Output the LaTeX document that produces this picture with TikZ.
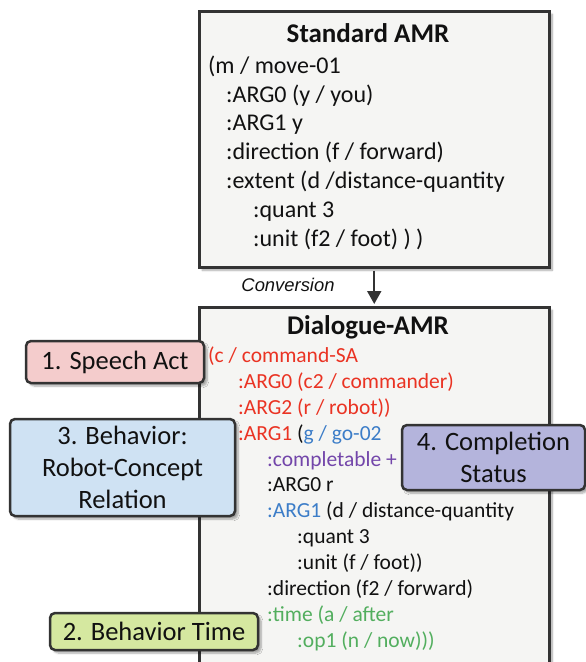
\documentclass[tikz,border=0pt]{standalone}
\usepackage{fontspec}
\setmainfont{Carlito}
\newfontfamily\convfont{Liberation Sans}
\usetikzlibrary{arrows.meta,shadows.blur}
\definecolor{edge}{HTML}{333333}
\definecolor{boxfill}{HTML}{F5F5F3}
\definecolor{cred}{HTML}{EA3323}
\definecolor{cblue}{HTML}{3C7DC8}
\definecolor{cpurple}{HTML}{7346AA}
\definecolor{cgreen}{HTML}{52AE5E}
\definecolor{fpink}{HTML}{F4CCCC}
\definecolor{fblue}{HTML}{CFE2F3}
\definecolor{fpurple}{HTML}{B4B4DC}
\definecolor{fgreen}{HTML}{D5E8A0}
\definecolor{txt}{HTML}{111111}
\begin{document}
\begin{tikzpicture}[x=1pt,y=-1pt,
  shade/.style={blur shadow={shadow xshift=3pt,shadow yshift=-3pt,shadow blur steps=6,shadow opacity=35}},
  box/.style={draw=edge,line width=2.5pt,fill=boxfill,shade,inner sep=0pt,anchor=north west},
  lab/.style={draw=edge,line width=2.5pt,rounded corners=5pt,shade,inner sep=0pt,align=center,
    text=txt,font=\fontsize{26.5}{32}\selectfont},
  title/.style={anchor=base,inner sep=0pt,text=txt,font=\fontsize{27}{32}\selectfont\bfseries},
  codeA/.style={anchor=base west,inner sep=0pt,text=txt,font=\fontsize{24}{29}\selectfont},
  codeB/.style={anchor=base west,inner sep=0pt,text=txt,font=\fontsize{21.5}{26}\selectfont},
]
\useasboundingbox (0,0) rectangle (586,662);
\clip (0,0) rectangle (586,662);
% boxes
\node[box,minimum width=350pt,minimum height=256pt] (std) at (198,10) {};
\node[box,minimum width=350pt,minimum height=420pt] (dlg) at (198,306) {};
% arrow
\draw[edge,line width=2pt,-{Triangle[length=13pt,width=14pt]},shorten <=2pt,shorten >=2pt] (std.south) -- (dlg.north);
\node[anchor=base,inner sep=0pt,text=txt,font=\convfont\itshape\fontsize{18.4}{22}\selectfont] (conv) at (288,291) {Conversion};
% standard AMR
\node[title] (t1) at (368,42) {Standard AMR};
\node[codeA] (a1) at (208,73) {(m / move-01};
\node[codeA] (a2) at (226,102) {:ARG0 (y / you)};
\node[codeA] (a3) at (226,130) {:ARG1 y};
\node[codeA] (a4) at (226,159) {:direction (f / forward)};
\node[codeA] (a5) at (226,188) {:extent (d /distance-quantity};
\node[codeA] (a6) at (253,217) {:quant 3};
\node[codeA] (a7) at (253,246) {:unit (f2 / foot) ) )};
% dialogue AMR
\node[title] (t2) at (368,334) {Dialogue-AMR};
\node[codeB,text=cred] (b1) at (208,362) {(c / command-SA};
\node[codeB,text=cred] (b2) at (238,388) {:ARG0 (c2 / commander)};
\node[codeB,text=cred] (b3) at (238,414) {:ARG2 (r / robot))};
\node[codeB] (b4) at (238,440) {\textcolor{cred}{:ARG1} (\textcolor{cblue}{g / go-02}};
\node[codeB,text=cpurple] (b5) at (267,466) {:completable +};
\node[codeB] (b6) at (267,491) {:ARG0 r};
\node[codeB] (b7) at (267,517) {\textcolor{cblue}{:ARG1} (d / distance-quantity};
\node[codeB] (b8) at (297,543) {:quant 3};
\node[codeB] (b9) at (297,569) {:unit (f / foot))};
\node[codeB] (b10) at (267,595) {:direction (f2 / forward)};
\node[codeB,text=cgreen] (b11) at (267,621) {:time (a / after};
\node[codeB,text=cgreen] (b12) at (297,647) {:op1 (n / now)))};
% labels
\node[lab,fill=fpink,minimum width=178pt,minimum height=42pt] (l1) at (115,362) {1. Speech Act};
\node[lab,fill=fblue,minimum width=225pt,minimum height=97pt] (l3) at (122.5,467.5) {3. Behavior:\\Robot-Concept\\Relation};
\node[lab,fill=fpurple,minimum width=183pt,minimum height=65pt] (l4) at (493.5,457.5) {4. Completion\\Status};
\node[lab,fill=fgreen,minimum width=208pt,minimum height=37pt] (l2) at (154,631.5) {2. Behavior Time};
\end{tikzpicture}
\end{document}
